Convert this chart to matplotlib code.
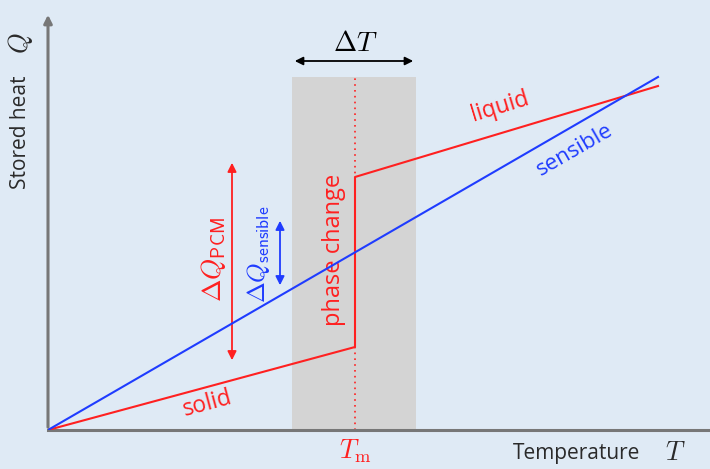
import numpy as np
import matplotlib.pyplot as plt

plt.rcParams['mathtext.fontset'] = 'cm'
plt.rcParams['font.family'] = ['Open Sans', 'DejaVu Sans']

# Kurven (Temperatur T, gespeicherte Waerme Q), willkuerliche Einheiten
T_sensibel = np.array([0.0, 6.10])
Q_sensibel = np.array([0.0, 3.53])

T_pcm = np.array([0.0, 3.07, 3.07, 6.10])
Q_pcm = np.array([0.0, 0.83, 2.53, 3.44])

T_m = 3.07
band_T = [2.44, 3.68]
band_Q = 3.53

# Pfeile fuer Delta Q
dQ_pcm = (1.84, 0.67, 2.70)       # T, Q unten, Q oben
dQ_sens = (2.32, 1.42, 2.12)

bg = '#dfeaf5'
rot = '#ff2020'
blau = '#1f3cff'
grau = '#777777'
text_c = '#2a2a2a'

fig = plt.figure(figsize=(7.1, 4.69), dpi=100, facecolor=bg)
ax = fig.add_axes([48 / 710, 39 / 469, 662 / 710, 418 / 469])
ax.set_facecolor(bg)
ax.set_xlim(0, 6.62)
ax.set_ylim(0, 4.18)
for s in ax.spines.values():
    s.set_visible(False)
ax.set_xticks([])
ax.set_yticks([])

# Phasenwechselbereich
ax.fill_between(band_T, 0, band_Q, color='#d4d4d4', zorder=1, lw=0)
ax.plot([T_m, T_m], [0, band_Q], color=rot, ls=(0, (1, 2.5)), lw=1.2, zorder=2)

# Achsen
ax.plot([0, 6.62], [0, 0], color=grau, lw=2.2, zorder=3, clip_on=False)
ax.annotate('', xy=(0, 4.18), xytext=(0, 0),
            arrowprops=dict(arrowstyle='-|>', color=grau, lw=2.2, mutation_scale=12),
            annotation_clip=False, zorder=3)

ax.plot(T_pcm, Q_pcm, color=rot, lw=1.5, zorder=4)
ax.plot(T_sensibel, Q_sensibel, color=blau, lw=1.5, zorder=5)

# Delta T
ax.annotate('', xy=(band_T[0], 3.69), xytext=(band_T[1], 3.69),
            arrowprops=dict(arrowstyle='<|-|>', color='black', lw=1.3, mutation_scale=12))
ax.text(T_m, 3.86, r'$\Delta T$', ha='center', va='center', fontsize=20)

ax.annotate('', xy=(dQ_pcm[0], dQ_pcm[1]), xytext=(dQ_pcm[0], dQ_pcm[2]),
            arrowprops=dict(arrowstyle='<|-|>', color=rot, lw=1.3, mutation_scale=13))
ax.text(1.66, 1.70, r'$\mathsf{\Delta}Q_{\mathsf{PCM}}$', color=rot, rotation=90,
        ha='center', va='center', fontsize=19.5)
ax.text(2.10, 1.76, r'$\mathsf{\Delta}Q_{\mathsf{sensible}}$', color=blau, rotation=90,
        ha='center', va='center', fontsize=18)
ax.annotate('', xy=(dQ_sens[0], dQ_sens[1]), xytext=(dQ_sens[0], dQ_sens[2]),
            arrowprops=dict(arrowstyle='<|-|>', color=blau, lw=1.3, mutation_scale=13))

ax.text(2.86, 1.80, 'phase change', color=rot, rotation=90,
        ha='center', va='center', fontsize=17)
ax.text(1.60, 0.26, 'solid', color=rot, rotation=15, ha='center', va='center', fontsize=16.5)
ax.text(4.52, 3.23, 'liquid', color=rot, rotation=17, ha='center', va='center', fontsize=16.5)
ax.text(5.27, 2.80, 'sensible', color=blau, rotation=30, ha='center', va='center', fontsize=16)

ax.text(T_m, -0.21, r'$T_\mathrm{m}$', color=rot, ha='center', va='center', fontsize=19,
        clip_on=False)
ax.text(5.92, -0.23, 'Temperature', ha='right', va='center', fontsize=15, color=text_c)
ax.text(6.17, -0.23, r'$T$', ha='left', va='center', fontsize=19, color=text_c)
ax.text(-0.27, 2.98, 'Stored heat', rotation=90, ha='center', va='center',
        fontsize=15, color=text_c)
ax.text(-0.27, 3.87, r'$Q$', rotation=90, ha='center', va='center',
        fontsize=19, color=text_c)

fig.savefig('out.png', dpi=100, facecolor=bg)
